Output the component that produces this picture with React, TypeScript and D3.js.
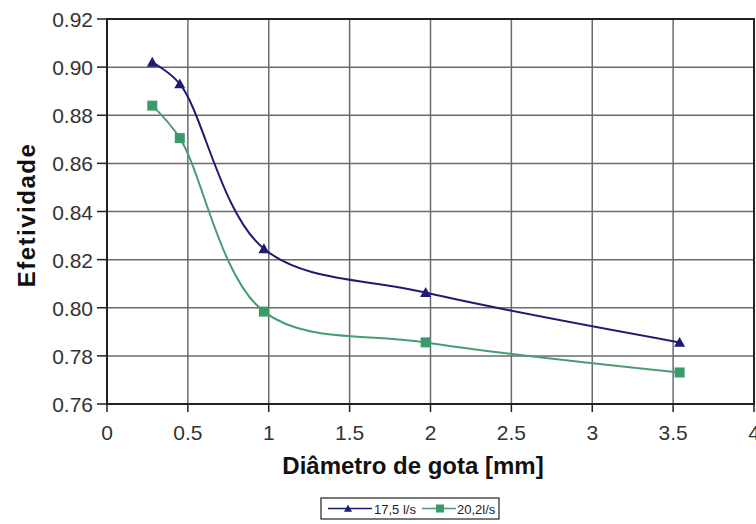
import React from "react";
import * as d3 from "d3";

const xTicks = [0, 0.5, 1, 1.5, 2, 2.5, 3, 3.5, 4];
const yTicks = [0.76, 0.78, 0.8, 0.82, 0.84, 0.86, 0.88, 0.9, 0.92];
const diam = [0.28, 0.45, 0.97, 1.97, 3.54];
const serieA = [0.902, 0.893, 0.8245, 0.8063, 0.7856];
const serieB = [0.884, 0.8705, 0.7984, 0.7856, 0.7731];
const seriesNames = ["17,5 l/s", "20,2l/s"];
const xTitle = "Diâmetro de gota [mm]";
const yTitle = "Efetividade";

const W = 756, H = 524;
const L = 107, R = 754, T = 19, B = 404;

export default function App() {
  const x = d3.scaleLinear().domain([0, 4]).range([L, R]);
  const y = d3.scaleLinear().domain([0.76, 0.92]).range([B, T]);
  const line = d3
    .line<[number, number]>()
    .x((d) => x(d[0]))
    .y((d) => y(d[1]))
    .curve(d3.curveCatmullRom.alpha(0.5));
  const ptsA = diam.map((d, i) => [d, serieA[i]] as [number, number]);
  const ptsB = diam.map((d, i) => [d, serieB[i]] as [number, number]);
  const blue = "#1c1c72";
  const green = "#3a9a6a";
  const greenLine = "#4a9c70";
  const tri = (cx: number, cy: number, s: number) =>
    `M${cx},${cy - s} L${cx + s},${cy + s * 0.8} L${cx - s},${cy + s * 0.8} Z`;
  const font = "Liberation Sans, Arial, sans-serif";
  return (
    <svg
      width={W}
      height={H}
      style={{ position: "absolute", left: 0, top: 0, background: "#fff" }}
      fontFamily={font}
    >
      <rect x={0} y={0} width={W} height={H} fill="#fff" />
      {/* grid */}
      {xTicks.map((t) => (
        <line key={"gx" + t} x1={x(t)} x2={x(t)} y1={T} y2={B} stroke="#6b6b6b" strokeWidth={1.5} />
      ))}
      {yTicks.map((t) => (
        <line key={"gy" + t} x1={L} x2={R} y1={y(t)} y2={y(t)} stroke="#6b6b6b" strokeWidth={1.5} />
      ))}
      <rect x={L} y={T} width={R - L} height={B - T} fill="none" stroke="#222" strokeWidth={2} />
      {/* ticks */}
      {xTicks.map((t) => (
        <g key={"tx" + t}>
          <line x1={x(t)} x2={x(t)} y1={B} y2={B + 8} stroke="#222" strokeWidth={1.5} />
          <text x={x(t)} y={B + 36} textAnchor="middle" fontSize={21} fill="#333">
            {String(t)}
          </text>
        </g>
      ))}
      {yTicks.map((t) => (
        <g key={"ty" + t}>
          <line x1={L - 10} x2={L} y1={y(t)} y2={y(t)} stroke="#222" strokeWidth={1.5} />
          <text x={L - 14} y={y(t) + 8} textAnchor="end" fontSize={21} fill="#333">
            {t.toFixed(2)}
          </text>
        </g>
      ))}
      {/* series */}
      <path d={line(ptsB) || ""} fill="none" stroke={greenLine} strokeWidth={2} />
      <path d={line(ptsA) || ""} fill="none" stroke={blue} strokeWidth={2} />
      {ptsB.map((p, i) => (
        <rect key={"b" + i} x={x(p[0]) - 5} y={y(p[1]) - 5} width={10} height={10} fill={green} />
      ))}
      {ptsA.map((p, i) => (
        <path key={"a" + i} d={tri(x(p[0]), y(p[1]), 5.5)} fill={blue} />
      ))}
      {/* titles */}
      <text x={413} y={474} textAnchor="middle" fontSize={24} fontWeight="bold" fill="#111">
        {xTitle}
      </text>
      <text
        transform={`translate(35,215) rotate(-90)`}
        textAnchor="middle"
        fontSize={24}
        fontWeight="bold"
        letterSpacing={1.5}
        fill="#111"
      >
        {yTitle}
      </text>
      {/* legend */}
      <rect x={321} y={498} width={178} height={21} fill="#fff" stroke="#222" strokeWidth={1.2} />
      <line x1={328} x2={372} y1={508.5} y2={508.5} stroke={blue} strokeWidth={1.5} />
      <path d={tri(348, 508.5, 4)} fill={blue} />
      <text x={374} y={513.5} fontSize={13} fill="#222">{seriesNames[0]}</text>
      <line x1={422} x2={456} y1={508.5} y2={508.5} stroke={greenLine} strokeWidth={1.5} />
      <rect x={436} y={504.5} width={8} height={8} fill={green} />
      <text x={457} y={513.5} fontSize={13} fill="#222">{seriesNames[1]}</text>
    </svg>
  );
}
